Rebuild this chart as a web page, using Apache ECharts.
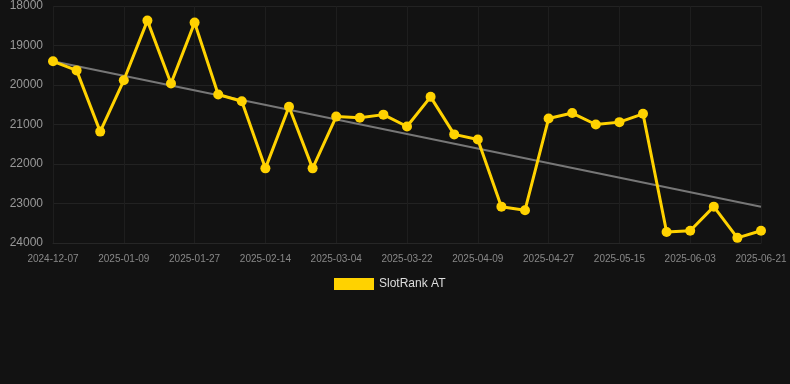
<!DOCTYPE html>
<html>
<head>
<meta charset="utf-8">
<script src="https://cdn.jsdelivr.net/npm/echarts@6/dist/echarts.min.js"></script>
<style>
    html, body { margin: 0; padding: 0; background: #121212; }
    #chart { width: 790px; height: 384px; }
</style>
</head>
<body>
<div id="chart"></div>
<script>
var dates = ['2024-12-07', '2024-12-18', '2024-12-29', '2025-01-09', '2025-01-15', '2025-01-21',
    '2025-01-27', '2025-02-02', '2025-02-08', '2025-02-14', '2025-02-20', '2025-02-26',
    '2025-03-04', '2025-03-10', '2025-03-16', '2025-03-22', '2025-03-28', '2025-04-03',
    '2025-04-09', '2025-04-15', '2025-04-21', '2025-04-27', '2025-05-03', '2025-05-09',
    '2025-05-15', '2025-05-21', '2025-05-28', '2025-06-03', '2025-06-09', '2025-06-15',
    '2025-06-21'];
var rank = [19400, 19630, 21180, 19880, 18370, 19960, 18420, 20240, 20410, 22110,
    20550, 22110, 20800, 20830, 20750, 21050, 20300, 21250, 21380, 23080,
    23170, 20850, 20710, 21000, 20940, 20730, 23720, 23690, 23080, 23870,
    23690];
var trendStart = 19400;
var trendEnd = 23080;

var chart = echarts.init(document.getElementById('chart'));

option = {
    backgroundColor: '#121212',
    animation: false,
    grid: {
        left: 53,
        right: 29,
        top: 6,
        bottom: 141
    },
    legend: {
        data: ['SlotRank AT'],
        top: 273,
        left: 329,
        itemWidth: 40,
        itemHeight: 12,
        itemGap: 10,
        icon: 'rect',
        textStyle: { color: '#dddddd', fontSize: 12 }
    },
    xAxis: {
        type: 'category',
        data: dates,
        boundaryGap: false,
        axisLine: { lineStyle: { color: '#262626' } },
        axisTick: { show: false },
        axisLabel: { color: '#888', fontSize: 10, interval: 2, margin: 11 },
        splitLine: { show: true, interval: 2, lineStyle: { color: '#1e1e1e' } }
    },
    yAxis: {
        type: 'value',
        inverse: true,
        min: 18000,
        max: 24000,
        interval: 1000,
        axisLine: { show: false },
        axisTick: { show: false },
        axisLabel: {
            color: '#999',
            fontSize: 12,
            margin: 10,
            formatter: function (v) { return String(v); }
        },
        splitLine: { lineStyle: { color: '#222' } }
    },
    series: [
        {
            name: 'SlotRank AT',
            type: 'line',
            data: rank,
            color: '#FFD200',
            symbol: 'circle',
            symbolSize: 10,
            lineStyle: { width: 3 },
            z: 3
        },
        {
            name: 'trend',
            type: 'line',
            data: [[dates[0], trendStart], [dates[dates.length - 1], trendEnd]],
            symbol: 'none',
            lineStyle: { color: '#777', width: 2 },
            z: 2
        }
    ]
};
chart.setOption(option);
</script>
</body>
</html>
